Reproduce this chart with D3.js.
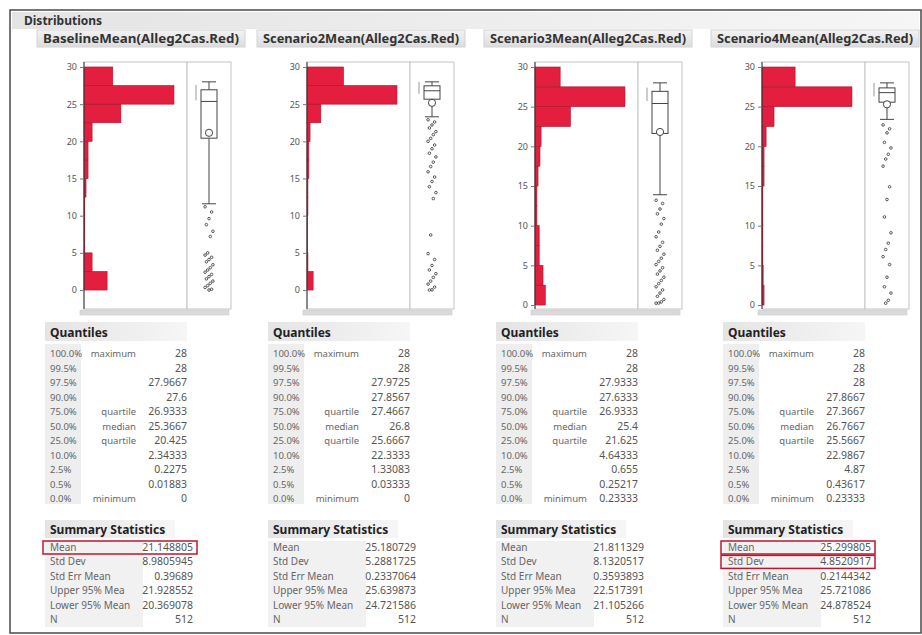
<!DOCTYPE html>
<html>
<head>
<meta charset="utf-8">
<script src="https://cdn.jsdelivr.net/npm/d3@7/dist/d3.min.js"></script>
<style>
  html, body { margin: 0; padding: 0; background: #fff; }
  svg { display: block; font-family: "Noto Sans", "Open Sans", sans-serif; }
</style>
</head>
<body>
<svg id="chart" width="922" height="635"></svg>
<script>
// ---- data ----
const titles = [
  "BaselineMean(Alleg2Cas.Red)",
  "Scenario2Mean(Alleg2Cas.Red)",
  "Scenario3Mean(Alleg2Cas.Red)",
  "Scenario4Mean(Alleg2Cas.Red)"
];

// histogram bins (2.5 wide), counts listed from the 0–2.5 bin upward
const binEdges = [0, 2.5, 5, 7.5, 10, 12.5, 15, 17.5, 20, 22.5, 25, 27.5, 30];
const countsBaseline  = [57, 20, 2, 2, 2, 5, 10, 10, 20, 91, 222, 71];
const countsScenario2 = [20, 3, 2, 2, 3, 3, 6, 6, 10, 45, 293, 119];
const countsScenario3 = [27, 21, 11, 11, 5, 5, 8, 13, 16, 93, 236, 66];
const countsScenario4 = [7, 4, 3, 3, 3, 3, 7, 7, 14, 41, 307, 113];

const yTicks = [0, 5, 10, 15, 20, 25, 30];
const yDomains = [[-2.55, 30.67], [-2.55, 30.67], [-0.5, 30.63], [-0.5, 30.63]];

const quantileLevels = ["100.0%", "99.5%", "97.5%", "90.0%", "75.0%", "50.0%", "25.0%", "10.0%", "2.5%", "0.5%", "0.0%"];
const quantileNames  = ["maximum", "", "", "", "quartile", "median", "quartile", "", "", "", "minimum"];
const quantilesBaseline  = ["28", "28", "27.9667", "27.6", "26.9333", "25.3667", "20.425", "2.34333", "0.2275", "0.01883", "0"];
const quantilesScenario2 = ["28", "28", "27.9725", "27.8567", "27.4667", "26.8", "25.6667", "22.3333", "1.33083", "0.03333", "0"];
const quantilesScenario3 = ["28", "28", "27.9333", "27.6333", "26.9333", "25.4", "21.625", "4.64333", "0.655", "0.25217", "0.23333"];
const quantilesScenario4 = ["28", "28", "28", "27.8667", "27.3667", "26.7667", "25.5667", "22.9867", "4.87", "0.43617", "0.23333"];

const summaryLabels = ["Mean", "Std Dev", "Std Err Mean", "Upper 95% Mea", "Lower 95% Mean", "N"];
const summaryBaseline  = ["21.148805", "8.9805945", "0.39689", "21.928552", "20.369078", "512"];
const summaryScenario2 = ["25.180729", "5.2881725", "0.2337064", "25.639873", "24.721586", "512"];
const summaryScenario3 = ["21.811329", "8.1320517", "0.3593893", "22.517391", "21.105266", "512"];
const summaryScenario4 = ["25.299805", "4.8520917", "0.2144342", "25.721086", "24.878524", "512"];

// lower whisker end and shortest-half bracket of each outlier box plot
const whiskerLow   = [11.6, 23.3, 13.9, 23.4];
const shortestHalf = [[25.5, 27.6], [26.4, 28], [25.7, 27.4], [26.3, 28]];

// points beyond the lower whisker
const outliersBaseline  = [11.2, 10.5, 9.6, 8.8, 7.9, 7.2, 5.0, 4.7, 4.4, 4.1, 3.8, 3.4, 3.0, 2.7, 2.4, 2.1, 1.8, 1.5, 1.2, 0.9, 0.6, 0.35, 0.1, 0];
const outliersScenario2 = [22.9, 22.6, 22.2, 21.8, 21.3, 20.9, 20.4, 20.0, 19.5, 19.0, 18.4, 17.9, 17.2, 16.6, 15.9, 15.2, 14.6, 13.9, 13.1, 12.3, 7.4, 4.9, 4.1, 3.3, 2.7, 2.2, 1.7, 1.2, 0.8, 0.4, 0.03, 0];
const outliersScenario3 = [13.2, 12.8, 12.1, 11.5, 10.9, 10.2, 9.2, 8.6, 7.9, 7.4, 6.9, 6.4, 5.9, 5.5, 5.1, 4.7, 4.3, 3.9, 3.5, 3.1, 2.7, 2.3, 1.9, 1.5, 1.1, 0.7, 0.4, 0.25, 0.23];
const outliersScenario4 = [22.7, 22.2, 21.7, 20.5, 19.8, 19.0, 18.4, 17.5, 14.9, 13.3, 11.1, 9.1, 7.8, 7.0, 6.1, 5.1, 3.5, 2.3, 1.5, 0.6, 0.23];

// rows outlined in red in each summary table
const highlightRows = [["Mean"], [], [], ["Mean", "Std Dev"]];

const counts    = [countsBaseline, countsScenario2, countsScenario3, countsScenario4];
const quantiles = [quantilesBaseline, quantilesScenario2, quantilesScenario3, quantilesScenario4];
const summaries = [summaryBaseline, summaryScenario2, summaryScenario3, summaryScenario4];
const outliers  = [outliersBaseline, outliersScenario2, outliersScenario3, outliersScenario4];

// ---- layout ----
const panelX = [0, 223, 451, 678];
const titleX = [43, 263, 490, 717];
const L = { axisX: 84, histW: 103, boxW: 44, top: 62, bottom: 309 };
const barFill = "#E41E3F", barStroke = "#A8122C";

const svg = d3.select("#chart");
const defs = svg.append("defs");
const hdr = defs.append("linearGradient").attr("id", "hdr").attr("x1", 0).attr("y1", 0).attr("x2", 0).attr("y2", 1);
hdr.append("stop").attr("offset", "0%").attr("stop-color", "#f3f3f3");
hdr.append("stop").attr("offset", "100%").attr("stop-color", "#dcdcdc");
const hdrH = defs.append("linearGradient").attr("id", "hdrH").attr("x1", 0).attr("y1", 0).attr("x2", 1).attr("y2", 0);
hdrH.append("stop").attr("offset", "0%").attr("stop-color", "#e4e4e4");
hdrH.append("stop").attr("offset", "100%").attr("stop-color", "#f6f6f6");

// outer frame and report header
svg.append("rect").attr("x", 10).attr("y", 10).attr("width", 911).attr("height", 623)
  .attr("fill", "#fff").attr("stroke", "#4a4a4a").attr("stroke-width", 1.5);
svg.append("rect").attr("x", 12).attr("y", 12).attr("width", 907).attr("height", 17).attr("fill", "url(#hdrH)");
svg.append("text").attr("x", 24).attr("y", 25).text("Distributions")
  .attr("font-size", 12).attr("font-weight", "bold").attr("fill", "#333");

titles.forEach((title, p) => {
  const g = svg.append("g").attr("transform", `translate(${panelX[p]},0)`);
  const tx = titleX[p] - panelX[p];

  // panel title bar
  g.append("rect").attr("x", tx - 6).attr("y", 30).attr("width", 208).attr("height", 17)
    .attr("fill", "url(#hdr)").attr("stroke", "#d4d4d4");
  g.append("text").attr("x", tx).attr("y", 42.5).text(title)
    .attr("font-size", 11.5).attr("font-weight", "bold").attr("fill", "#333")
    .attr("textLength", 196).attr("lengthAdjust", "spacingAndGlyphs");

  const y = d3.scaleLinear().domain(yDomains[p]).range([L.bottom, L.top]);
  const x = d3.scaleLinear().domain([0, d3.max(counts[p]) * 1.145]).range([L.axisX, L.axisX + L.histW]);
  const boxLeft = L.axisX + L.histW;

  // plot frames
  g.append("rect").attr("x", L.axisX).attr("y", L.top).attr("width", L.histW).attr("height", L.bottom - L.top)
    .attr("fill", "#fff").attr("stroke", "#c4c4c4");
  g.append("rect").attr("x", boxLeft).attr("y", L.top).attr("width", L.boxW).attr("height", L.bottom - L.top)
    .attr("fill", "#fff").attr("stroke", "#c4c4c4");
  g.append("rect").attr("x", L.axisX - 4).attr("y", L.bottom + 1).attr("width", L.histW + L.boxW + 2).attr("height", 5)
    .attr("fill", "#dadada").attr("stroke", "#c8c8c8").attr("stroke-width", 0.5);

  // histogram bars
  const bins = counts[p].map((c, i) => ({ lo: binEdges[i], hi: binEdges[i + 1], c }));
  g.append("g").selectAll("rect").data(bins).join("rect")
    .attr("x", L.axisX)
    .attr("y", d => y(d.hi))
    .attr("width", d => x(d.c) - L.axisX)
    .attr("height", d => y(d.lo) - y(d.hi))
    .attr("fill", barFill).attr("stroke", barStroke).attr("stroke-width", 0.6);

  // y axis
  const ax = g.append("g").attr("transform", `translate(${L.axisX},0)`)
    .call(d3.axisLeft(y).tickValues(yTicks).tickSize(4).tickPadding(3));
  ax.select(".domain").attr("stroke", "#333").attr("d", `M0,${L.top}V${L.bottom}`);
  ax.selectAll(".tick line").attr("stroke", "#777");
  ax.selectAll(".tick text").attr("font-size", 9).attr("fill", "#555").attr("font-family", "Noto Sans, sans-serif");

  // outlier box plot
  const q = quantiles[p].map(Number);
  const qMax = q[0], q3 = q[4], med = q[5], q1 = q[6];
  const mean = +summaries[p][0];
  const cx = boxLeft + L.boxW / 2;
  const bw = 16;
  const bp = g.append("g").attr("stroke", "#444").attr("fill", "none");
  bp.append("line").attr("x1", cx).attr("x2", cx).attr("y1", y(qMax)).attr("y2", y(q3));
  bp.append("line").attr("x1", cx).attr("x2", cx).attr("y1", y(q1)).attr("y2", y(whiskerLow[p]));
  [qMax, whiskerLow[p]].forEach(v => {
    bp.append("line").attr("x1", cx - 7).attr("x2", cx + 7).attr("y1", y(v)).attr("y2", y(v));
  });
  bp.append("rect").attr("x", cx - bw / 2).attr("y", y(q3)).attr("width", bw).attr("height", y(q1) - y(q3))
    .attr("fill", "#fff");
  bp.append("line").attr("x1", cx - bw / 2).attr("x2", cx + bw / 2).attr("y1", y(med)).attr("y2", y(med));
  bp.append("circle").attr("cx", cx).attr("cy", y(mean)).attr("r", 3.6).attr("fill", "#fff");
  const sh = shortestHalf[p];
  bp.append("line").attr("x1", cx - 13).attr("x2", cx - 13).attr("y1", y(sh[1])).attr("y2", y(sh[0]))
    .attr("stroke", "#999");
  bp.selectAll("circle.out").data(outliers[p]).join("circle").attr("class", "out")
    .attr("cx", (d, i) => cx + (((i * 5) % 7) - 3) * 1.3)
    .attr("cy", d => y(d))
    .attr("r", 1.3).attr("stroke", "#444").attr("stroke-width", 0.9);

  // Quantiles table
  const tq = g.append("g").attr("transform", `translate(${L.axisX - 34},0)`);
  tq.append("rect").attr("x", -5).attr("y", 322).attr("width", 142).attr("height", 19).attr("fill", "url(#hdrH)");
  tq.append("rect").attr("x", -5).attr("y", 344).attr("width", 36).attr("height", 160).attr("fill", "#eeeeee");
  tq.append("text").attr("x", 0).attr("y", 337).text("Quantiles")
    .attr("font-size", 12).attr("font-weight", "bold").attr("fill", "#222");
  quantileLevels.forEach((lvl, i) => {
    const ty = 357 + i * 14.5;
    tq.append("text").attr("x", 0).attr("y", ty).text(lvl).attr("font-size", 9.5).attr("fill", "#666");
    if (quantileNames[i]) {
      tq.append("text").attr("x", 86).attr("y", ty).attr("text-anchor", "end").text(quantileNames[i])
        .attr("font-size", 9.5).attr("fill", "#666");
    }
    tq.append("text").attr("x", 137).attr("y", ty).attr("text-anchor", "end").text(quantiles[p][i])
      .attr("font-size", 10.5).attr("fill", "#555");
  });

  // Summary Statistics table
  tq.append("rect").attr("x", -5).attr("y", 520).attr("width", 130).attr("height", 18).attr("fill", "url(#hdrH)");
  tq.append("rect").attr("x", -5).attr("y", 541).attr("width", 98).attr("height", 86).attr("fill", "#f1f1f1");
  tq.append("text").attr("x", 0).attr("y", 534).text("Summary Statistics")
    .attr("font-size", 12).attr("font-weight", "bold").attr("fill", "#222");
  summaryLabels.forEach((lab, i) => {
    const ty = 551 + i * 14.4;
    tq.append("text").attr("x", 0).attr("y", ty).text(lab).attr("font-size", 10).attr("fill", "#666");
    tq.append("text").attr("x", 143).attr("y", ty).attr("text-anchor", "end").text(summaries[p][i])
      .attr("font-size", 10.5).attr("fill", "#555");
    if (highlightRows[p].includes(lab)) {
      tq.append("rect").attr("x", -7).attr("y", ty - 10).attr("width", 154).attr("height", 13)
        .attr("fill", "none").attr("stroke", "#C0142E").attr("stroke-width", 1.5);
    }
  });
});
</script>
</body>
</html>
